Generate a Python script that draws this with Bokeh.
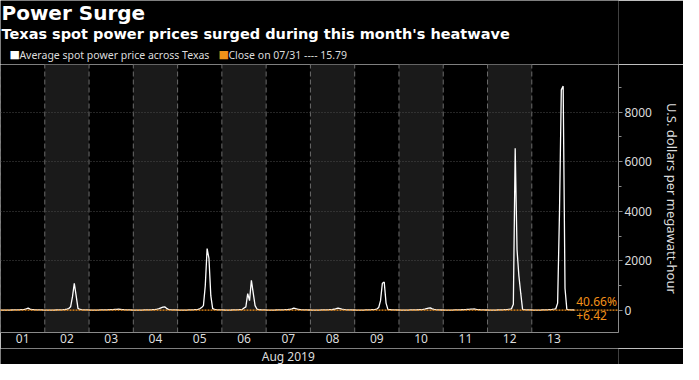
import numpy as np
from bokeh.plotting import figure
from bokeh.layouts import column
from bokeh.models import (Range1d, FixedTicker, BoxAnnotation, Span, Label)
from bokeh.embed import file_html
from bokeh.resources import INLINE

# ---------------- data ----------------
day_labels = ["01", "02", "03", "04", "05", "06", "07", "08", "09", "10", "11", "12", "13"]
month_label = "Aug 2019"

# hourly average spot power price across Texas ($/MWh), Aug 1-13 2019
d01 = [20, 18, 17, 16, 17, 19, 22, 24, 25, 27, 30, 34, 38, 45, 70, 100, 60, 40, 35, 30, 28, 26, 24, 22]
d02 = [21, 19, 18, 17, 18, 20, 23, 25, 27, 30, 35, 42, 55, 80, 150, 550, 1100, 600, 90, 45, 35, 30, 27, 24]
d03 = [22, 20, 19, 18, 19, 21, 24, 26, 27, 29, 31, 34, 37, 40, 45, 50, 52, 48, 40, 34, 30, 27, 25, 23]
d04 = [21, 19, 18, 18, 19, 21, 24, 26, 28, 31, 35, 40, 48, 60, 80, 110, 140, 150, 90, 50, 38, 31, 27, 24]
d05 = [22, 20, 19, 18, 19, 21, 24, 27, 30, 34, 40, 50, 70, 120, 200, 1000, 2500, 2100, 600, 80, 45, 35, 29, 25]
d06 = [24, 22, 20, 19, 20, 22, 25, 28, 31, 35, 40, 45, 100, 150, 680, 400, 1220, 700, 200, 60, 40, 32, 28, 25]
d07 = [23, 21, 20, 19, 20, 22, 25, 27, 29, 31, 34, 38, 42, 50, 70, 100, 75, 55, 42, 35, 30, 27, 25, 23]
d08 = [22, 20, 19, 18, 19, 21, 24, 26, 28, 31, 34, 38, 43, 52, 75, 100, 80, 58, 44, 36, 31, 28, 25, 23]
d09 = [22, 20, 19, 18, 19, 21, 24, 27, 30, 34, 40, 48, 60, 120, 400, 1100, 1150, 300, 50, 38, 32, 28, 25, 23]
d10 = [22, 20, 19, 18, 19, 21, 24, 26, 28, 30, 33, 37, 41, 48, 60, 80, 100, 110, 70, 45, 35, 29, 26, 23]
d11 = [22, 20, 19, 18, 19, 21, 24, 26, 28, 30, 33, 36, 40, 45, 50, 55, 60, 62, 50, 40, 33, 29, 26, 23]
d12 = [23, 21, 20, 19, 20, 22, 25, 28, 31, 35, 40, 46, 55, 70, 250, 6550, 2450, 1400, 700, 45, 36, 30, 27, 24]
d13 = [23, 21, 20, 19, 20, 22, 25, 28, 31, 35, 40, 46, 55, 70, 300, 3900, 8900, 9050, 900, 45, 35, 28, 25, 22.21]

close_0731 = 15.79

y_ticks = [0, 2000, 4000, 6000, 8000]
y_minor_ticks = [1000, 3000, 5000, 7000, 9000]

days = [d01, d02, d03, d04, d05, d06, d07, d08, d09, d10, d11, d12, d13]
prices = [v for d in days for v in d]
hours = list(range(len(prices)))
hpd = 24

last = prices[-1]
pct_label = "%.2f%%" % ((last - close_0731) / close_0731 * 100)
chg_label = "%+.2f" % (last - close_0731)

title = "Power Surge"
subtitle = "Texas spot power prices surged during this month's heatwave"
legend_avg = "Average spot power price across Texas"
legend_close = "Close on 07/31 ---- %.2f" % close_0731

# ---------------- style / layout ----------------
BG = "#000000"
SHADE = "#1a1a1a"
ORANGE = "#f39019"
TXT = "#dcdcdc"
AXIS = "#8a8a8a"
SEP = "#6a6a6a"
FONT = "Noto Sans"
TFONT = "DejaVu Sans"

W = 683
HEAD_H, CHART_H, FOOT_H = 64, 284, 16
BOTTOM = 16
RIGHT = 62
X0, X1 = 0, 335
Y0, Y1 = -885, 9923

common = dict(output_backend="svg", toolbar_location=None, title=None,
              background_fill_color=BG, border_fill_color=BG, outline_line_color=None)

# ---------- header ----------
head = figure(width=W, height=HEAD_H, x_range=Range1d(0, W - RIGHT), y_range=Range1d(0, HEAD_H),
              x_axis_location=None, y_axis_location=None, min_border=0,
              min_border_right=RIGHT, **common)
head.grid.visible = False

def head_label(text, x, center_from_top, size, color, font=FONT, style="normal"):
    head.add_layout(Label(x=x, y=HEAD_H - center_from_top, text=text, text_color=color,
                          text_font=font, text_font_size=size, text_font_style=style,
                          text_align="left", text_baseline="middle"))

head_label(title, 1, 12.5, "20px", "white", TFONT, "bold")
head_label(subtitle, 1, 33, "14.5px", "white", TFONT, "bold")
head_label("\u25a0", 9, 54, "11px", "white", TFONT)
head_label(legend_avg, 19, 54, "10.5px", TXT)
head_label("\u25a0", 219, 54, "11px", ORANGE, TFONT)
head_label(legend_close, 229, 54, "10.5px", TXT)

# ---------- chart ----------
p = figure(width=W, height=CHART_H, x_range=Range1d(X0, X1), y_range=Range1d(Y0, Y1),
           y_axis_location="right", min_border=0, min_border_right=RIGHT,
           min_border_bottom=BOTTOM, **common)

p.xgrid.visible = False
p.ygrid.ticker = FixedTicker(ticks=y_ticks[1:])
p.ygrid.grid_line_color = "#4a4a4a"
p.ygrid.grid_line_dash = "1 2"

bounds = [i * hpd for i in range(len(days))]
for i, b in enumerate(bounds):
    if i % 2 == 1:
        p.add_layout(BoxAnnotation(left=b, right=b + hpd, bottom=Y0, top=Y1,
                                   fill_color=SHADE, fill_alpha=1, line_color=None,
                                   level="image"))
p.segment(x0=bounds, y0=[Y0] * len(bounds), x1=bounds, y1=[Y1] * len(bounds),
          line_color=SEP, line_dash="5 3", line_width=1, level="underlay")

p.line(hours, prices, line_color="white", line_width=1.3)

p.add_layout(Span(location=close_0731, dimension="width", line_color=ORANGE,
                  line_width=1.2, line_dash="2 1", level="annotation"))

p.add_layout(Label(x=hours[-1], y=close_0731, text=pct_label, text_color=ORANGE,
                   text_font=FONT, text_font_size="12px", text_align="left",
                   text_baseline="bottom", x_offset=2, y_offset=0))
p.add_layout(Label(x=hours[-1], y=close_0731, text=chg_label, text_color=ORANGE,
                   text_font=FONT, text_font_size="12px", text_align="left",
                   text_baseline="top", x_offset=2, y_offset=-1))

ya = p.yaxis[0]
ya.ticker = FixedTicker(ticks=y_ticks, minor_ticks=y_minor_ticks)
ya.axis_label = "U.S. dollars per megawatt-hour"
ya.axis_label_text_font = FONT
ya.axis_label_text_font_size = "13px"
ya.axis_label_text_font_style = "normal"
ya.axis_label_text_color = TXT
ya.axis_label_standoff = 8
ya.major_label_text_font = FONT
ya.major_label_text_font_size = "12px"
ya.major_label_text_color = TXT
ya.major_label_standoff = 2
ya.axis_line_color = AXIS
ya.major_tick_line_color = AXIS
ya.minor_tick_line_color = AXIS
ya.major_tick_in = 0
ya.major_tick_out = 4
ya.minor_tick_in = 0
ya.minor_tick_out = 3

centers = [b + hpd // 2 for b in bounds]
xa = p.xaxis[0]
xa.ticker = FixedTicker(ticks=centers)
xa.major_label_overrides = {c: lab for c, lab in zip(centers, day_labels)}
xa.major_label_text_font = FONT
xa.major_label_text_font_size = "12px"
xa.major_label_text_color = TXT
xa.major_label_standoff = 1
xa.axis_line_color = AXIS
xa.major_tick_line_color = None
xa.minor_tick_line_color = None
xa.major_tick_in = 0
xa.major_tick_out = 0
xa.minor_tick_in = 0
xa.minor_tick_out = 0

# ---------- footer (month under the middle day) ----------
foot = figure(width=W, height=FOOT_H, x_range=p.x_range, y_range=Range1d(0, FOOT_H),
              x_axis_location=None, y_axis_location=None, min_border=0,
              min_border_right=RIGHT, **common)
foot.grid.visible = False
foot.add_layout(Label(x=centers[6], y=FOOT_H / 2, text=month_label, text_color=TXT,
                      text_font=FONT, text_font_size="12px", text_align="center",
                      text_baseline="middle"))

layout = column(head, p, foot, spacing=0)
open("out.html", "w").write(file_html(layout, INLINE))
